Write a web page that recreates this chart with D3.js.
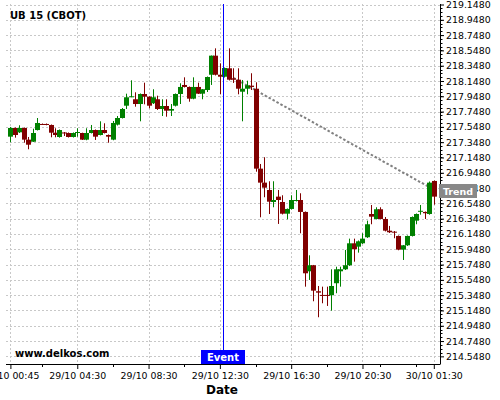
<!DOCTYPE html>
<html>
<head>
<meta charset="utf-8">
<script src="https://cdn.jsdelivr.net/npm/d3@7"></script>
<style>
  body { margin: 0; background: #fff; }
  svg { display: block; font-family: "DejaVu Sans", sans-serif; }
</style>
</head>
<body>
<div id="chart"></div>
<script>
// 15 minute candles, UB 15 (CBOT)
const opens = [
  217.420,217.534,217.477,217.534,217.381,217.354,217.507,217.586,217.586,217.573,
  217.472,217.416,217.475,217.468,217.416,217.473,217.468,217.381,217.468,217.507,
  217.442,217.507,217.442,217.381,217.577,217.664,217.825,217.940,217.909,217.847,
  217.978,217.943,217.857,217.909,217.782,217.821,217.760,217.825,217.978,218.096,
  218.070,217.917,218.070,217.982,218.030,218.230,218.479,218.230,218.204,218.314,
  218.183,218.165,218.008,218.047,218.087,218.047,217.002,216.819,216.723,216.566,
  216.636,216.566,216.413,216.475,216.579,216.592,216.436,215.660,215.739,215.399,
  215.351,215.351,215.347,215.504,215.660,215.686,215.739,216.026,215.982,216.026,
  216.105,216.409,216.344,216.471,216.344,216.191,216.178,216.122,215.943,216.000,
  216.122,216.322,216.445,216.436,216.409,216.841
];
const highs = [
  217.547,217.540,217.569,217.540,217.416,217.524,217.664,217.592,217.592,217.579,
  217.530,217.514,217.481,217.475,217.475,217.530,217.472,217.530,217.573,217.514,
  217.621,217.595,217.449,217.625,217.690,217.795,217.982,218.157,218.000,217.985,
  218.126,217.948,218.040,217.956,217.909,217.909,217.847,217.985,218.118,218.196,
  218.076,218.196,218.126,218.043,218.207,218.481,218.575,218.379,218.324,218.575,
  218.314,218.314,218.161,218.152,218.249,218.131,217.063,217.151,216.837,216.837,
  216.723,216.654,216.481,216.654,216.723,216.680,216.442,215.869,215.743,215.468,
  215.459,215.459,215.686,215.720,215.720,215.939,216.087,216.087,216.063,216.157,
  216.322,216.527,216.497,216.497,216.370,216.253,216.187,216.128,216.004,216.128,
  216.377,216.416,216.527,216.442,216.834,216.847
];
const lows = [
  217.347,217.407,217.468,217.341,217.255,217.351,217.501,217.573,217.569,217.412,
  217.412,217.407,217.429,217.409,217.409,217.420,217.377,217.373,217.462,217.377,
  217.436,217.462,217.341,217.373,217.566,217.658,217.782,217.936,217.812,217.621,
  217.843,217.791,217.847,217.769,217.690,217.681,217.690,217.815,217.847,218.063,
  217.877,217.909,217.978,217.909,218.004,218.096,218.220,217.974,218.194,218.155,
  218.122,217.974,217.621,217.974,218.030,216.962,216.366,216.628,216.409,216.497,
  216.279,216.403,216.340,216.468,216.573,216.157,215.459,215.547,215.268,215.059,
  215.242,215.207,215.145,215.373,215.459,215.677,215.730,215.786,215.904,216.017,
  216.096,216.275,216.338,216.338,216.181,216.161,216.092,215.935,215.808,215.991,
  216.115,216.275,216.400,216.344,216.400,216.531
];
const closes = [
  217.534,217.442,217.534,217.381,217.315,217.468,217.599,217.577,217.577,217.472,
  217.442,217.507,217.468,217.416,217.468,217.481,217.381,217.468,217.507,217.420,
  217.507,217.468,217.420,217.599,217.664,217.782,217.935,217.948,217.847,217.978,
  217.943,217.825,217.935,217.782,217.821,217.760,217.782,217.978,218.070,218.070,
  217.917,218.070,217.982,218.040,218.200,218.479,218.230,218.204,218.318,218.165,
  218.165,218.047,218.047,218.092,218.070,217.002,216.819,216.753,216.570,216.592,
  216.592,216.413,216.475,216.592,216.592,216.436,215.634,215.739,215.407,215.381,
  215.344,215.344,215.468,215.686,215.686,215.739,216.026,215.948,216.052,216.087,
  216.275,216.374,216.471,216.344,216.191,216.170,216.165,215.943,216.000,216.122,
  216.370,216.409,216.451,216.419,216.819,216.636
];

// axis ticks (candle index for x)
const xTickIdx = [0, 15, 31, 47, 63, 79, 95];
const xTickLabels = ["29/10 00:45","29/10 04:30","29/10 08:30","29/10 12:30","29/10 16:30","29/10 20:30","30/10 01:30"];
const xMinorIdx = [7, 23, 39, 55, 71, 83, 91];
const yTicks = [219.148,218.948,218.748,218.548,218.348,218.148,217.948,217.748,217.548,217.348,217.148,216.948,
                216.748,216.548,216.348,216.148,215.948,215.748,215.548,215.348,215.148,214.948,214.748,214.548];

// event + trend line
const eventIdx = 47.8;
const trendIdx = [50, 94];
const trendVals = [218.19, 216.76];

const width = 500, height = 400;
const plotL = 6, plotR = 440, plotT = 4, plotB = 364;

const svg = d3.select("#chart").append("svg")
    .attr("width", width)
    .attr("height", height);

const x = d3.scaleLinear().domain([0, 95]).range([10.4, 433.8]);
const y = d3.scaleLinear().domain([214.448, 219.148]).range([plotB, 4.5]);

// grid
svg.append("g").selectAll("line")
    .data(yTicks)
    .enter().append("line")
    .attr("x1", plotL).attr("x2", plotR)
    .attr("y1", d => Math.round(y(d)) + 0.5).attr("y2", d => Math.round(y(d)) + 0.5)
    .attr("stroke", "#c8c8c8")
    .attr("stroke-dasharray", "2,2");

svg.append("g").selectAll("line")
    .data(xTickIdx)
    .enter().append("line")
    .attr("x1", d => Math.round(x(d)) + 0.5).attr("x2", d => Math.round(x(d)) + 0.5)
    .attr("y1", plotT).attr("y2", plotB)
    .attr("stroke", "#c8c8c8")
    .attr("stroke-dasharray", "2,2");

// trend line (drawn under the candles)
svg.append("line")
    .attr("x1", x(trendIdx[0])).attr("y1", y(trendVals[0]))
    .attr("x2", x(trendIdx[1])).attr("y2", y(trendVals[1]))
    .attr("stroke", "#808080")
    .attr("stroke-width", 2)
    .attr("stroke-dasharray", "2.5,2");

// candles
const candles = opens.map((o, i) => ({i: i, o: o, h: highs[i], l: lows[i], c: closes[i]}));
const color = d => d.c >= d.o ? "#008000" : "#800000";

const g = svg.append("g");
g.selectAll(".wick")
    .data(candles)
    .enter().append("line")
    .attr("class", "wick")
    .attr("x1", d => Math.round(x(d.i)) + 0.5).attr("x2", d => Math.round(x(d.i)) + 0.5)
    .attr("y1", d => y(d.h)).attr("y2", d => y(d.l))
    .attr("stroke", color);

g.selectAll(".body")
    .data(candles)
    .enter().append("rect")
    .attr("class", "body")
    .attr("x", d => Math.round(x(d.i)) - 2)
    .attr("width", 5)
    .attr("y", d => y(Math.max(d.o, d.c)))
    .attr("height", d => Math.max(1, Math.abs(y(d.o) - y(d.c))))
    .attr("fill", color);

// event marker
svg.append("line")
    .attr("x1", Math.round(x(eventIdx)) + 0.5).attr("x2", Math.round(x(eventIdx)) + 0.5)
    .attr("y1", plotT).attr("y2", plotB)
    .attr("stroke", "#0000ff");

// axes
const yAxis = svg.append("g")
    .attr("transform", `translate(${plotR},0)`)
    .call(d3.axisRight(y).tickValues(yTicks).tickFormat(d3.format(".4f")).tickSize(4).tickSizeOuter(0).tickPadding(2));
yAxis.selectAll("text").attr("font-size", "9.4px").attr("font-family", "DejaVu Sans").attr("fill", "#000");
yAxis.select(".domain").attr("d", `M0.5,${plotT}V${plotB}`);

// minor ticks on the price axis
svg.append("g").selectAll("line")
    .data(d3.range(214.598, 219.148, 0.05))
    .enter().append("line")
    .attr("x1", plotR + 0.5).attr("x2", plotR + 2.5)
    .attr("y1", d => Math.round(y(d)) + 0.5).attr("y2", d => Math.round(y(d)) + 0.5)
    .attr("stroke", "#000");

const xAxis = svg.append("g")
    .attr("transform", `translate(0,${plotB})`)
    .call(d3.axisBottom(x).tickValues(xTickIdx).tickFormat((d, i) => xTickLabels[i]).tickSize(5).tickSizeOuter(0).tickPadding(3));
xAxis.selectAll("text").attr("font-size", "9.4px").attr("font-family", "DejaVu Sans").attr("fill", "#000");
xAxis.select(".domain").attr("d", `M${plotL},0.5H${plotR + 0.5}`);

svg.append("g")
    .attr("transform", `translate(0,${plotB})`)
    .selectAll("line")
    .data(xMinorIdx)
    .enter().append("line")
    .attr("x1", d => Math.round(x(d)) + 0.5).attr("x2", d => Math.round(x(d)) + 0.5)
    .attr("y1", 0).attr("y2", 3)
    .attr("stroke", "#000");

// event label
const ex = Math.round(x(eventIdx));
svg.append("rect")
    .attr("x", ex - 22).attr("y", plotB - 14)
    .attr("width", 44).attr("height", 14)
    .attr("fill", "#0000ff");
svg.append("text")
    .attr("x", ex).attr("y", plotB - 3)
    .attr("text-anchor", "middle")
    .attr("fill", "#fff")
    .attr("font-size", "10px").attr("font-weight", "bold")
    .text("Event");

// trend label on the price axis
const ty = y(trendVals[1]);
svg.append("rect")
    .attr("x", plotR - 1).attr("y", Math.round(ty) - 3)
    .attr("width", 38).attr("height", 14)
    .attr("fill", "#888");
svg.append("text")
    .attr("x", plotR + 18).attr("y", Math.round(ty) + 8)
    .attr("text-anchor", "middle")
    .attr("fill", "#fff")
    .attr("font-size", "9.5px").attr("font-weight", "bold")
    .text("Trend");

// titles
svg.append("text")
    .attr("x", 10).attr("y", 19)
    .attr("font-size", "10px").attr("font-weight", "bold")
    .text("UB 15 (CBOT)");

svg.append("text")
    .attr("x", 15).attr("y", 357)
    .attr("font-size", "10px").attr("font-weight", "bold")
    .text("www.delkos.com");

svg.append("text")
    .attr("x", 222).attr("y", 394)
    .attr("text-anchor", "middle")
    .attr("font-size", "12px").attr("font-weight", "bold")
    .text("Date");
</script>
</body>
</html>
